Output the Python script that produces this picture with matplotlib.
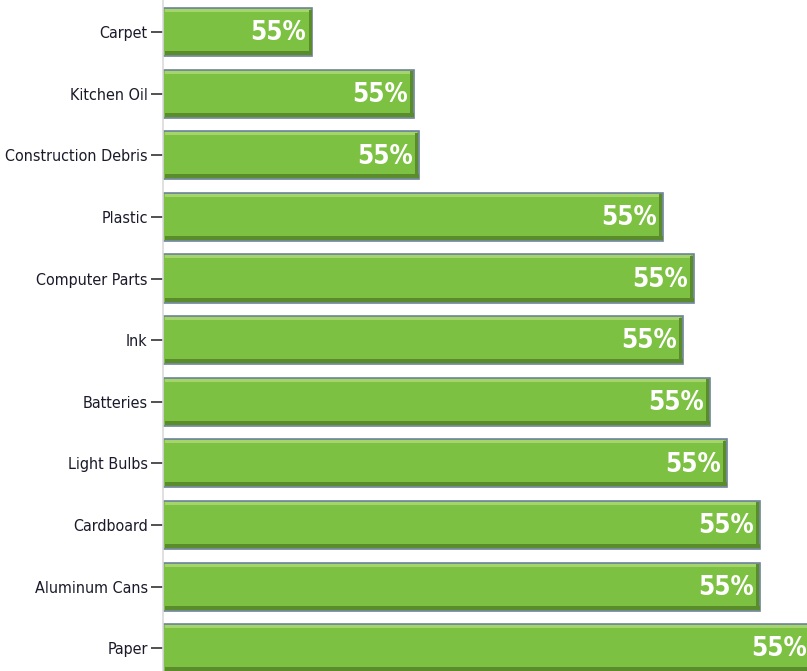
import matplotlib
matplotlib.use("Agg")
import matplotlib.pyplot as plt

# data (bar lengths; labels all read "55%")
categories = ["Carpet", "Kitchen Oil", "Construction Debris", "Plastic",
              "Computer Parts", "Ink", "Batteries", "Light Bulbs",
              "Cardboard", "Aluminum Cans", "Paper"]
values = [14.9, 25.1, 25.6, 50.0, 53.1, 52.0, 54.7, 56.4, 59.7, 59.7, 65.0]
labels = ["55%"] * len(categories)

GREEN = "#7dc142"
LIGHT = "#a6d46c"
DARK = "#5a8c2c"
EDGE = "#6f849e"
BAR_H = 0.78
PX_Y = 1 / 61.6   # one pixel in y data units
PX_X = 0.1        # one pixel in x data units

fig = plt.figure(figsize=(8.07, 6.71), dpi=100)
ax = fig.add_axes([163 / 807, 0, 644 / 807, 1])

ys = list(range(len(categories)))
ax.barh(ys, values, height=BAR_H, color=GREEN, edgecolor=EDGE, linewidth=1.2, zorder=2)
# bevel: light top strip, dark bottom strip, dark right strip
top_y = [y - BAR_H / 2 + 2.5 * PX_Y for y in ys]
bot_y = [y + BAR_H / 2 - 3 * PX_Y for y in ys]
ax.barh(top_y, [v - 4 * PX_X for v in values], left=1.5 * PX_X, height=3 * PX_Y,
        color=LIGHT, linewidth=0, zorder=3)
ax.barh(bot_y, [v - 1.5 * PX_X for v in values], left=1.5 * PX_X, height=4 * PX_Y,
        color=DARK, linewidth=0, zorder=3)
ax.barh(ys, [3 * PX_X] * len(values), left=[v - 3.5 * PX_X for v in values],
        height=BAR_H - 3 * PX_Y, color=DARK, linewidth=0, zorder=3)

for y, v, lab in zip(ys, values, labels):
    ax.text(v - 6 * PX_X, y + 0.02, lab, ha="right", va="center", color="white",
            fontsize=18.5, fontweight="bold", fontstretch="condensed", zorder=4)

ax.set_ylim(10.37, -0.52)
ax.set_xlim(0, 64.4)
ax.set_yticks(ys)
ax.set_yticklabels(categories, fontsize=11.5, fontstretch="condensed", color="#1a1a2a")
ax.tick_params(axis="y", length=9, width=1.2, color="#333333", pad=2)
ax.set_xticks([])
for s in ["top", "right", "bottom"]:
    ax.spines[s].set_visible(False)
ax.spines["left"].set_color("#dadada")
ax.spines["left"].set_linewidth(1.2)

fig.savefig("out.png", dpi=100)
